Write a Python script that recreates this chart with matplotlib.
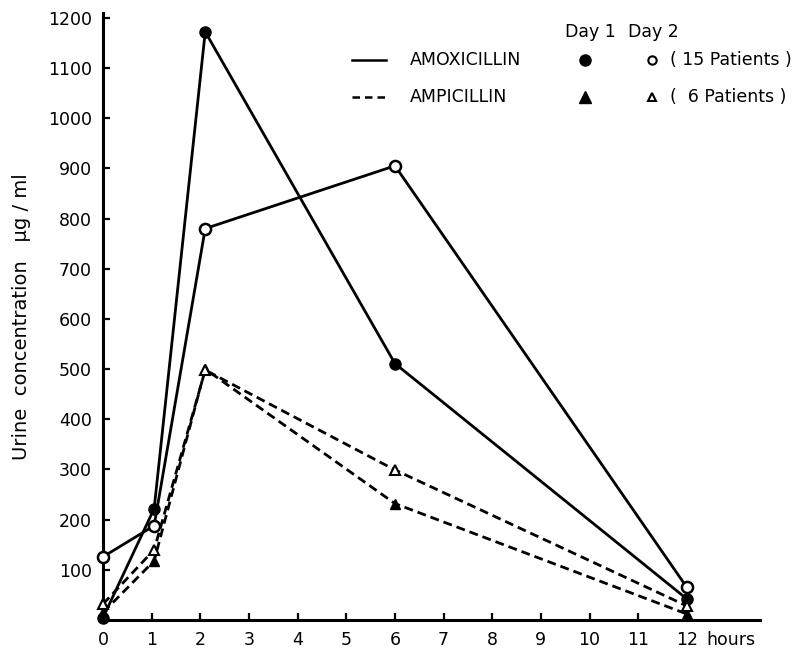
"""Urine concentration of amoxicillin vs ampicillin, day 1 and day 2."""

import matplotlib
matplotlib.use("Agg")
import matplotlib.pyplot as plt

hours = [0, 1.05, 2.1, 6, 12]
amox_day1 = [5, 222, 1172, 511, 42]
amox_day2 = [126, 188, 780, 905, 65]
amp_day1 = [15, 118, 500, 232, 12]
amp_day2 = [32, 140, 498, 299, 28]

x_ticks = list(range(0, 13))
y_ticks = list(range(100, 1300, 100))

plt.rcParams["font.family"] = "DejaVu Sans"

fig = plt.figure(figsize=(7.99, 6.53), dpi=100)
ax = fig.add_axes([0.129, 0.0505, 0.822, 0.93])

lw = 2.0
dash = (0, (3.2, 1.8))
ax.plot(hours, amox_day1, color="black", lw=lw, marker="o", ms=8, mfc="black", clip_on=False, zorder=3)
ax.plot(hours, amox_day2, color="black", lw=lw, marker="o", ms=8, mfc="white", mew=1.8, clip_on=False, zorder=3)
ax.plot(hours, amp_day1, color="black", lw=lw, ls=dash, marker="^", ms=7, mfc="black", clip_on=False, zorder=3)
ax.plot(hours, amp_day2, color="black", lw=lw, ls=dash, marker="^", ms=7, mfc="white", mew=1.5, clip_on=False, zorder=3)

ax.set_xlim(0, 13.5)
ax.set_ylim(0, 1210)
ax.spines["top"].set_visible(False)
ax.spines["right"].set_visible(False)
ax.spines["left"].set_linewidth(2.2)
ax.spines["bottom"].set_linewidth(2.2)
ax.set_xticks(x_ticks)
ax.set_yticks(y_ticks)
ax.tick_params(direction="in", length=5, width=1.6, labelsize=12.5, pad=8)
ax.set_ylabel("Urine  concentration   µg / ml", fontsize=14, labelpad=12)
ax.annotate("hours", xy=(12.4, 0), xycoords=("data", "axes fraction"),
            xytext=(0, -8), textcoords="offset points", fontsize=12.5, va="top")

# hand-made legend
fig.text(565 / 799, 1 - 32 / 653, "Day 1", fontsize=12.5, va="center")
fig.text(628 / 799, 1 - 32 / 653, "Day 2", fontsize=12.5, va="center")
rows = [
    ("AMOXICILLIN", "-", "o", "( 15 Patients )", 60),
    ("AMPICILLIN", (0, (3, 2)), "^", "(  6 Patients )", 97),
]
for name, ls, mk, note, ypx in rows:
    yf = 1 - ypx / 653
    fig.add_artist(plt.Line2D([352 / 799, 386 / 799], [yf, yf], color="black", lw=1.8, ls=ls))
    fig.text(410 / 799, yf, name, fontsize=12.5, va="center")
    fig.add_artist(plt.Line2D([585 / 799], [yf], color="black", marker=mk, ms=8, mfc="black", ls="none"))
    fig.add_artist(plt.Line2D([652 / 799], [yf], color="black", marker=mk, ms=6, mfc="white", mew=1.5, ls="none"))
    fig.text(670 / 799, yf, note, fontsize=12.5, va="center")

fig.savefig("out.png", dpi=100)
